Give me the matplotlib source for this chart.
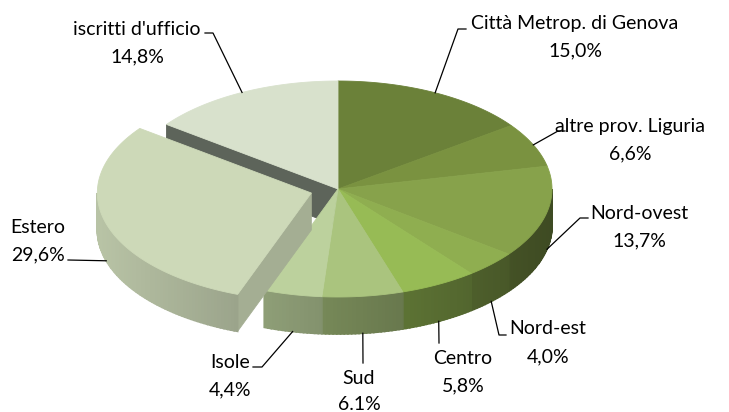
import numpy as np
import matplotlib.pyplot as plt
from matplotlib.patches import Polygon
from matplotlib.colors import to_rgb

# data
categories = ["Città Metrop. di Genova", "altre prov. Liguria", "Nord-ovest", "Nord-est",
              "Centro", "Sud", "Isole", "Estero", "iscritti d'ufficio"]
values = [15.0, 6.6, 13.7, 4.0, 5.8, 6.1, 4.4, 29.6, 14.8]
pct_labels = ["15,0%", "6,6%", "13,7%", "4,0%", "5,8%", "6.1%", "4,4%", "29,6%", "14,8%"]
explode = [0, 0, 0, 0, 0, 0, 0, 0.13, 0]

colors = ["#6b8139", "#7a9240", "#87a24b", "#8fae50", "#97bb55",
          "#aac47e", "#bcd19d", "#cdd9b8", "#d8e1cc"]

# label layout: text centre x, first line y, leader elbow, leader end
label_pos = [(575, 23), (630, 126), (639, 213), (548, 329), (463, 358),
             (359, 379), (230, 362), (38, 227), (137, 29)]
elbows = [((458, 29), (466, 29)), ((558, 131), (565, 131)), ((580, 218), (588, 218)),
          ((499, 335), (506, 335)), ((439, 343), (439, 343)), ((363, 363), (363, 363)),
          ((262, 367), (253, 367)), ((68, 260), (68, 260)), ((213, 33), (205, 33))]

# pie geometry (pixels)
CX, CY = 338, 189
RX, RY = 214, 108
DEPTH = 37

plt.rcParams['font.family'] = ['Lato', 'DejaVu Sans']

fig = plt.figure(figsize=(7.29, 4.12), dpi=100)
ax = fig.add_axes([0, 0, 1, 1])
ax.set_xlim(0, 729)
ax.set_ylim(412, 0)
ax.axis('off')


def rim(t, dx=0, dy=0, down=0):
    r = np.radians(t)
    return CX + dx + RX * np.sin(r), CY + dy - RY * np.cos(r) + down


def shade(col, f):
    c = np.array(to_rgb(col)) * f
    return tuple(np.clip(c, 0, 1))


def poly(pts, col, z, lw=0.6):
    ax.add_patch(Polygon(pts, closed=True, facecolor=col, edgecolor=col,
                         linewidth=lw, zorder=z))


total = sum(values)
bounds = np.concatenate([[0], np.cumsum(values) / total * 360])

slices = []
for i, v in enumerate(values):
    a0, a1 = bounds[i], bounds[i + 1]
    mid = (a0 + a1) / 2
    e = explode[i]
    dx = RX * e * np.sin(np.radians(mid))
    dy = -RY * e * np.cos(np.radians(mid))
    slices.append((a0, a1, mid, dx, dy))


def draw_slice(i, z):
    a0, a1, mid, dx, dy = slices[i]
    col = colors[i]
    # outer side, only the front half is visible
    s0, s1 = max(a0, 90), min(a1, 270)
    if s1 > s0:
        ts = np.linspace(s0, s1, int(s1 - s0) + 2)
        for t0, t1 in zip(ts[:-1], ts[1:]):
            tm = (t0 + t1) / 2
            f = 0.68 - 0.22 * np.sin(np.radians(tm))
            p0, p1 = rim(t0, dx, dy), rim(t1, dx, dy)
            poly([p0, p1, (p1[0], p1[1] + DEPTH), (p0[0], p0[1] + DEPTH)],
                 shade(col, f), z, lw=1.2)
    # top face
    ts = np.linspace(a0, a1, max(int(a1 - a0) * 2, 4))
    pts = [(CX + dx, CY + dy)] + [rim(t, dx, dy) for t in ts]
    poly(pts, col, z + 0.5)


# radial wall of "iscritti d'ufficio" seen through the gap
a_w = slices[8][0]
pw = rim(a_w)
poly([(CX, CY), pw, (pw[0], pw[1] + DEPTH), (CX, CY + DEPTH)], "#5d645a", 1)

for i in range(len(values)):
    if explode[i] == 0:
        draw_slice(i, 2)

# exploded slice: side wall facing the gap, then the slice itself
for i in range(len(values)):
    if explode[i] > 0:
        a0, a1, mid, dx, dy = slices[i]
        pw = rim(a0, dx, dy)
        poly([(CX + dx, CY + dy), pw, (pw[0], pw[1] + DEPTH),
              (CX + dx, CY + dy + DEPTH)], shade(colors[i], 0.8), 4)
        draw_slice(i, 4)

# leader lines and labels
for i, name in enumerate(categories):
    a0, a1, mid, dx, dy = slices[i]
    down = DEPTH if np.cos(np.radians(mid)) < 0 else 0
    ax_, ay_ = rim(mid, dx, dy, down)
    (ex, ey), (fx, fy) = elbows[i]
    ax.plot([ax_, ex, fx], [ay_, ey, fy], color="black", lw=0.9, zorder=6)
    lx, ly = label_pos[i]
    ax.text(lx, ly, name, ha="center", va="center", fontsize=14, color="black", zorder=7)
    ax.text(lx, min(ly + 27.5, 405), pct_labels[i], ha="center", va="center", fontsize=14,
            color="black", zorder=7)

fig.savefig("out.png", dpi=100)
